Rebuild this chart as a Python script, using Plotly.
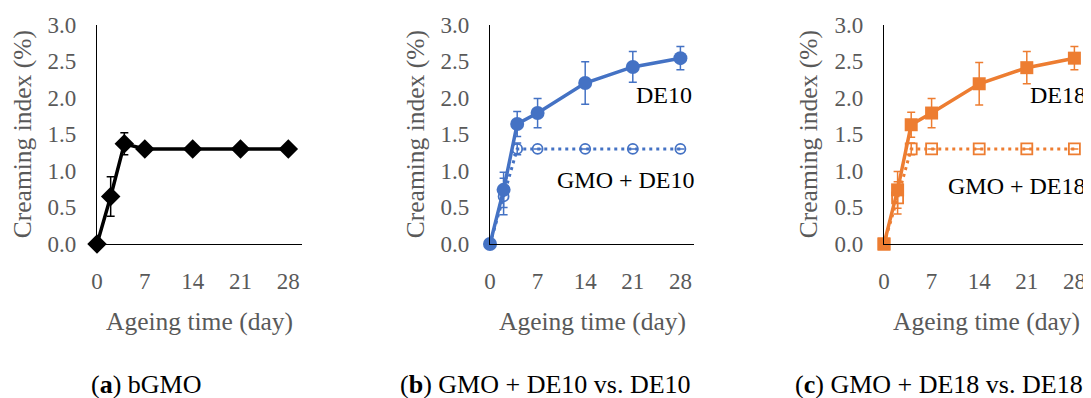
import plotly.graph_objects as go

# ---------------- data ----------------
days = [0, 2, 4, 7, 14, 21, 28]

bgmo = [0.0, 0.65, 1.37, 1.30, 1.30, 1.30, 1.30]
bgmo_err = [0.0, 0.27, 0.15, 0.0, 0.0, 0.0, 0.0]

gmo_de10 = [0.0, 0.65, 1.30, 1.30, 1.30, 1.30, 1.30]
gmo_de10_err = [0.0, 0.25, 0.08, 0.0, 0.0, 0.0, 0.0]
de10 = [0.0, 0.74, 1.64, 1.79, 2.20, 2.42, 2.54]
de10_err = [0.0, 0.24, 0.17, 0.20, 0.29, 0.21, 0.16]

gmo_de18 = [0.0, 0.63, 1.30, 1.30, 1.30, 1.30, 1.30]
gmo_de18_err = [0.0, 0.22, 0.08, 0.0, 0.0, 0.0, 0.0]
de18 = [0.0, 0.74, 1.63, 1.79, 2.19, 2.41, 2.54]
de18_err = [0.0, 0.25, 0.17, 0.20, 0.29, 0.22, 0.16]

x_ticks = [0, 7, 14, 21, 28]
y_ticks = [0.0, 0.5, 1.0, 1.5, 2.0, 2.5, 3.0]
y_ticklabels = ["0.0", "0.5", "1.0", "1.5", "2.0", "2.5", "3.0"]

captions = ["(<b>a</b>) bGMO", "(<b>b</b>) GMO + DE10 vs. DE10", "(<b>c</b>) GMO + DE18 vs. DE18"]
x_title = "Ageing time (day)"
y_title = "Creaming index (%)"

BLACK = "#000000"
BLUE = "#4472C4"
ORANGE = "#ED7D31"
GREY = "#595959"
FONT = "Liberation Serif"

# the page body adds an 8px margin, so the figure is drawn 8px smaller and
# positions (given in window pixels) are shifted by that offset
OFF = 8
W, H = 1091 - OFF, 398 - OFF


def fx(p):
    return (p - OFF) / W


def fy(p):
    return 1 - (p - OFF) / H


# pixel geometry of the three plot areas (window pixels)
x_left = [97, 490, 884]
x_right = [302, 694, 1088]
y_top, y_bot = 24.5, 244

fig = go.Figure()


def err(arr, color):
    return dict(type="data", array=arr, visible=True, color=color,
                thickness=1.5, width=4)


# panel a
fig.add_trace(go.Scatter(x=days, y=bgmo, mode="lines+markers", xaxis="x", yaxis="y",
                         line=dict(color=BLACK, width=3.5), cliponaxis=False,
                         marker=dict(symbol="diamond", size=15, color=BLACK),
                         error_y=err(bgmo_err, BLACK), showlegend=False))

# panel b
fig.add_trace(go.Scatter(x=days, y=gmo_de10, mode="lines+markers", xaxis="x2", yaxis="y2",
                         line=dict(color=BLUE, width=3, dash="3px,4px"), cliponaxis=False,
                         marker=dict(symbol="circle-open", size=10, color=BLUE,
                                     line=dict(width=1.8, color=BLUE)),
                         error_y=err(gmo_de10_err, BLUE), showlegend=False))
fig.add_trace(go.Scatter(x=days, y=de10, mode="lines+markers", xaxis="x2", yaxis="y2",
                         line=dict(color=BLUE, width=3.5), cliponaxis=False,
                         marker=dict(symbol="circle", size=14, color=BLUE),
                         error_y=err(de10_err, BLUE), showlegend=False))

# panel c
fig.add_trace(go.Scatter(x=days, y=gmo_de18, mode="lines+markers", xaxis="x3", yaxis="y3",
                         line=dict(color=ORANGE, width=3, dash="3px,4px"), cliponaxis=False,
                         marker=dict(symbol="square-open", size=11, color=ORANGE,
                                     line=dict(width=1.8, color=ORANGE)),
                         error_y=err(gmo_de18_err, ORANGE), showlegend=False))
fig.add_trace(go.Scatter(x=days, y=de18, mode="lines+markers", xaxis="x3", yaxis="y3",
                         line=dict(color=ORANGE, width=3.5), cliponaxis=False,
                         marker=dict(symbol="square", size=13, color=ORANGE),
                         error_y=err(de18_err, ORANGE), showlegend=False))

layout = dict(width=W, height=H, margin=dict(l=0, r=0, t=0, b=0, autoexpand=False),
              paper_bgcolor="white", plot_bgcolor="white", showlegend=False,
              font=dict(family=FONT, color=GREY, size=22))

for i in range(3):
    sx = "" if i == 0 else str(i + 1)
    layout["xaxis" + sx] = dict(
        domain=[fx(x_left[i]), fx(x_right[i])], range=[0, 30],
        anchor="y" + sx, tickmode="array", tickvals=x_ticks,
        showgrid=False, zeroline=False, showline=True, linecolor=BLACK, linewidth=1.3,
        ticks="", ticklabelstandoff=16, automargin=False,
        tickfont=dict(family=FONT, size=23, color=GREY), fixedrange=True)
    layout["yaxis" + sx] = dict(
        domain=[fy(y_bot), fy(y_top)], range=[0, 3],
        anchor="x" + sx, tickmode="array", tickvals=y_ticks, ticktext=y_ticklabels,
        showgrid=False, zeroline=False, showline=True, linecolor=BLACK, linewidth=1.3,
        ticks="", ticklabelstandoff=15, automargin=False,
        tickfont=dict(family=FONT, size=23, color=GREY), fixedrange=True)

annotations = []
y_title_x = [22, 415, 808]
for i in range(3):
    annotations.append(dict(text=y_title, textangle=-90, xref="paper", yref="paper",
                            x=fx(y_title_x[i]), y=fy((y_top + y_bot) / 2),
                            xanchor="center", yanchor="middle", showarrow=False,
                            font=dict(family=FONT, size=25.5, color=GREY)))
    annotations.append(dict(text=x_title, xref="paper", yref="paper",
                            x=fx((x_left[i] + x_right[i]) / 2), y=fy(321),
                            xanchor="center", yanchor="middle", showarrow=False,
                            font=dict(family=FONT, size=25.5, color=GREY)))

caption_cx = [146, 545, 939]
for i in range(3):
    annotations.append(dict(text=captions[i], xref="paper", yref="paper",
                            x=fx(caption_cx[i]), y=fy(384),
                            xanchor="center", yanchor="middle", showarrow=False,
                            font=dict(family=FONT, size=26, color=BLACK)))

# series labels
annotations += [
    dict(text="DE10", xref="x2", yref="y2", x=30, y=2.03, xanchor="right", yanchor="middle",
         showarrow=False, font=dict(family=FONT, size=24, color=BLACK)),
    dict(text="GMO + DE10", xref="x2", yref="y2", x=30, y=0.87, xshift=3,
         xanchor="right", yanchor="middle",
         showarrow=False, font=dict(family=FONT, size=24, color=BLACK)),
    dict(text="DE18", xref="x3", yref="y3", x=30, y=2.03, xanchor="right", yanchor="middle",
         showarrow=False, font=dict(family=FONT, size=24, color=BLACK)),
    dict(text="GMO + DE18", xref="x3", yref="y3", x=30, y=0.79, xanchor="right", yanchor="middle",
         showarrow=False, font=dict(family=FONT, size=24, color=BLACK)),
]
layout["annotations"] = annotations

fig.update_layout(**layout)
fig.write_html("out.html")
